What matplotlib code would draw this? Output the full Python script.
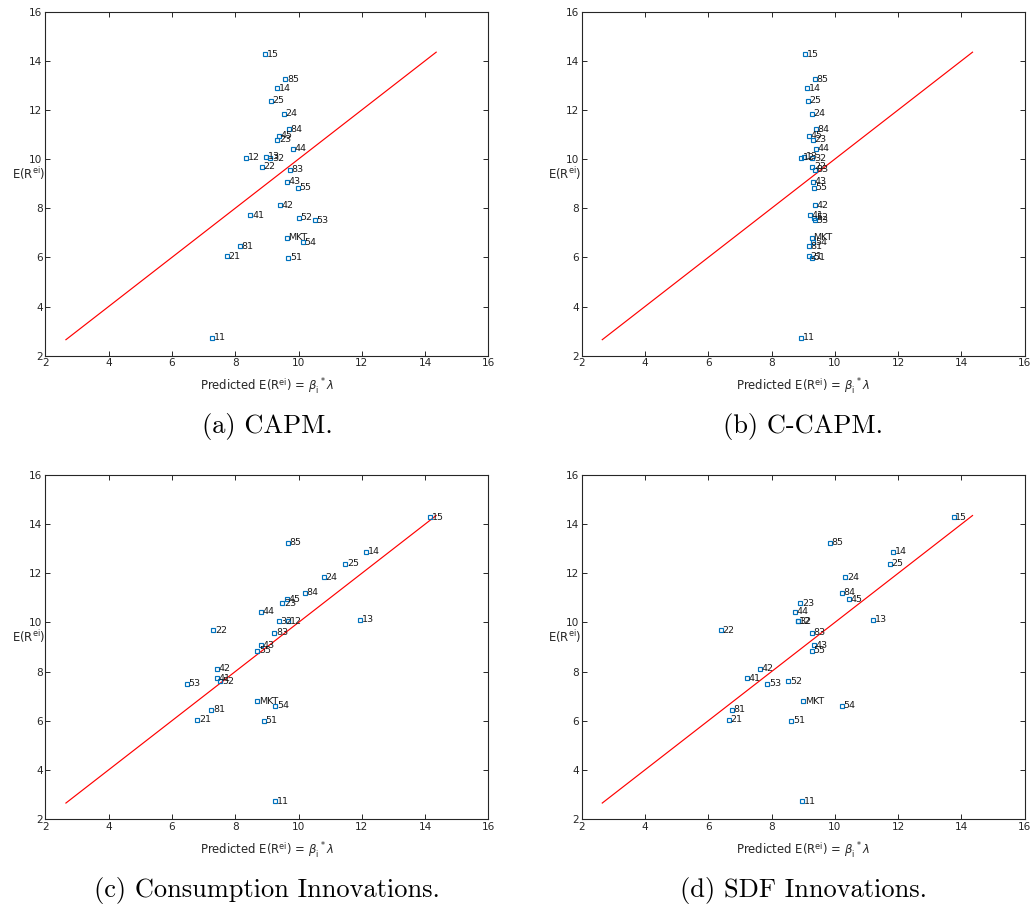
import matplotlib
matplotlib.use("Agg")
import matplotlib.pyplot as plt

# portfolio labels and average excess returns (same for every panel)
names = ["11", "12", "13", "14", "15", "21", "22", "23", "24", "25", "32",
         "41", "42", "43", "44", "45", "51", "52", "53", "54", "55",
         "81", "83", "84", "85", "MKT"]
actual = [2.73, 10.05, 10.10, 12.88, 14.27, 6.04, 9.68, 10.78, 11.84, 12.38, 10.04,
          7.72, 8.12, 9.07, 10.43, 10.95, 5.99, 7.61, 7.51, 6.61, 8.84,
          6.45, 9.57, 11.21, 13.24, 6.80]

# predicted returns beta*lambda for each model
pred_capm = [7.26, 8.33, 8.98, 9.33, 8.93, 7.73, 8.84, 9.33, 9.54, 9.13, 9.10,
             8.48, 9.40, 9.64, 9.81, 9.37, 9.67, 10.01, 10.51, 10.14, 9.98,
             8.15, 9.72, 9.69, 9.58, 9.63]
pred_ccapm = [8.92, 8.92, 9.02, 9.13, 9.05, 9.17, 9.28, 9.30, 9.27, 9.14, 9.28,
              9.20, 9.36, 9.30, 9.39, 9.17, 9.27, 9.35, 9.37, 9.32, 9.33,
              9.17, 9.37, 9.40, 9.37, 9.27]
pred_cons = [9.27, 9.66, 11.94, 12.14, 14.15, 6.80, 7.30, 9.49, 10.80, 11.48, 9.38,
             7.43, 7.42, 8.80, 8.82, 9.63, 8.90, 7.53, 6.47, 9.26, 8.69,
             7.24, 9.24, 10.19, 9.66, 8.70]
pred_sdf = [8.95, 8.82, 11.22, 11.84, 13.75, 6.65, 6.39, 8.90, 10.33, 11.74, 8.83,
            7.22, 7.63, 9.34, 8.73, 10.45, 8.63, 8.53, 7.87, 10.21, 9.27,
            6.74, 9.27, 10.22, 9.84, 8.99]

captions = ["(a) CAPM.", "(b) C-CAPM.", "(c) Consumption Innovations.", "(d) SDF Innovations."]
fit_line = [2.65, 14.35]
ticks = [2, 4, 6, 8, 10, 12, 14, 16]

blue = "#0072BD"
dark = "#262626"

fig = plt.figure(figsize=(10.33, 9.08), dpi=100)
boxes = [(0.0439, 0.6083), (0.5631, 0.6083), (0.0439, 0.0980), (0.5631, 0.0980)]
preds = [pred_capm, pred_ccapm, pred_cons, pred_sdf]

for (left, bottom), pred, cap in zip(boxes, preds, captions):
    ax = fig.add_axes([left, bottom, 0.4289, 0.3789])
    ax.plot(fit_line, fit_line, color="red", lw=0.85)
    ax.plot(pred, actual, ls="none", marker="s", ms=3.3, mfc="none",
            mec=blue, mew=0.85)
    for x, y, n in zip(pred, actual, names):
        ax.annotate(n, (x, y), xytext=(1.3, 0), textcoords="offset points",
                    ha="left", va="center", fontsize=6.8, color="#1a1a1a")
    ax.set_xlim(2, 16)
    ax.set_ylim(2, 16)
    ax.set_xticks(ticks)
    ax.set_yticks(ticks)
    ax.tick_params(direction="in", length=3.5, width=0.7, top=True, right=True,
                   labelsize=7.6, colors=dark, pad=2)
    for s in ax.spines.values():
        s.set_color(dark)
        s.set_linewidth(0.8)
    ax.set_xlabel(r"Predicted E(R$^{\rm ei}$) = $\beta_{\rm i}^{\ *}\lambda$",
                  fontsize=8.4, color=dark, labelpad=6)
    ax.set_ylabel(r"E(R$^{\rm ei}$)", fontsize=8.4, color=dark, rotation=0,
                  ha="right", va="center")
    ax.yaxis.set_label_coords(-0.001, 0.53)
    ax.text(0.5, -0.207, cap, transform=ax.transAxes, ha="center", va="center",
            fontsize=19, family="cmr10")

fig.savefig("out.png", dpi=100)
